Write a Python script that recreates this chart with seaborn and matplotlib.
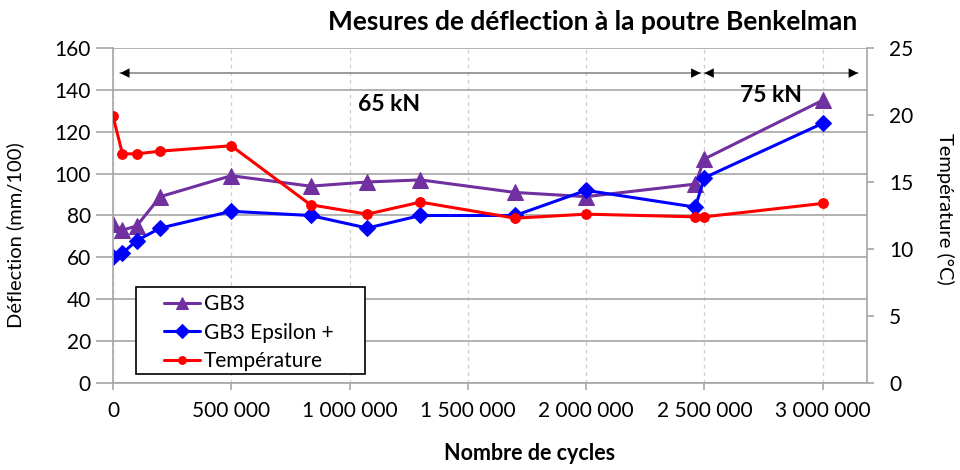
import matplotlib
matplotlib.use("Agg")
import matplotlib.pyplot as plt
from matplotlib.ticker import FuncFormatter, MultipleLocator
from matplotlib.patches import Rectangle
import seaborn as sns
import pandas as pd

# Measurement data
cycles = [0, 40000, 100000, 200000, 500000, 835000, 1075000, 1300000,
          1700000, 2000000, 2462000, 2500000, 3000000]
gb3 = [76, 73, 75, 89, 99, 94, 96, 97, 91, 89, 95, 107, 135]
gb3_epsilon = [60, 62, 68, 74, 82, 80, 74, 80, 80, 92, 84, 98, 124]
temperature = [19.9, 17.1, 17.1, 17.3, 17.7, 13.3, 12.6, 13.5, 12.3, 12.6, 12.4, 12.4, 13.4]

series_labels = ["GB3", "GB3 Epsilon +", "Température"]
load_labels = ["65 kN", "75 kN"]
load_ranges = [(30000, 2484000), (2500000, 3150000)]

sns.set_theme(style="white")
plt.rcParams["font.family"] = ["Lato", "DejaVu Sans"]
plt.rcParams["text.color"] = "black"
plt.rcParams["axes.labelcolor"] = "black"

df = pd.DataFrame({"cycles": cycles, "gb3": gb3, "eps": gb3_epsilon, "temp": temperature})

fig = plt.figure(figsize=(9.6, 4.7), dpi=100)
ax = fig.add_axes([0.1177, 0.185, 0.7855, 0.713])
ax2 = ax.twinx()

sns.lineplot(data=df, x="cycles", y="gb3", ax=ax, color="#7030A0", marker="^",
             markersize=11, markeredgecolor="#7030A0", linewidth=2.2, label=series_labels[0],
             legend=False)
sns.lineplot(data=df, x="cycles", y="eps", ax=ax, color="#0000FF", marker="D",
             markersize=8.5, markeredgecolor="#0000FF", linewidth=2.2, label=series_labels[1],
             legend=False)
sns.lineplot(data=df, x="cycles", y="temp", ax=ax2, color="#FF0000", marker="o",
             markersize=7, markeredgecolor="#FF0000", linewidth=2.2, label=series_labels[2],
             legend=False)

ax.set_xlim(0, 3188000)
ax.set_ylim(0, 160)
ax2.set_ylim(0, 25)
ax.xaxis.set_major_locator(MultipleLocator(500000))
ax.yaxis.set_major_locator(MultipleLocator(20))
ax2.yaxis.set_major_locator(MultipleLocator(5))
ax.xaxis.set_major_formatter(FuncFormatter(lambda v, p: f"{int(v):,}".replace(",", " ")))

# Grid: solid horizontal, dashed vertical
ax.yaxis.grid(True, color="#A6A6A6", linewidth=1.2, linestyle="-")
ax.xaxis.grid(True, color="#CFCFCF", linewidth=0.9, linestyle=(0, (3, 3)))
ax.set_axisbelow(True)

for a in (ax, ax2):
    for s in a.spines.values():
        s.set_visible(False)
ax.spines["left"].set_visible(True)
ax.spines["bottom"].set_visible(True)
ax2.spines["right"].set_visible(True)
for sp in (ax.spines["left"], ax.spines["bottom"], ax2.spines["right"]):
    sp.set_color("#A6A6A6")
    sp.set_linewidth(1.2)

ax.tick_params(axis="y", direction="out", length=12, width=1.2, color="#A6A6A6",
               labelsize=15, labelcolor="black", left=True, pad=4)
ax.tick_params(axis="x", direction="out", length=5, width=1.2, color="#A6A6A6",
               labelsize=15, labelcolor="black", bottom=True, pad=8)
ax2.tick_params(axis="y", direction="out", length=5, width=1.2, color="#A6A6A6",
                labelsize=15, labelcolor="black", right=True, pad=11)

ax.set_xlabel("Nombre de cycles", fontsize=15.5, fontweight="bold")
ax.xaxis.set_label_coords(0.553, -0.18)
ax.set_ylabel("Déflection (mm/100)", fontsize=14.5)
ax.yaxis.set_label_coords(-0.118, 0.442)
ax2.set_ylabel("Température (°C)", fontsize=14.5, rotation=270, va="center")
ax2.yaxis.set_label_coords(1.103, 0.519)

fig.text(0.617, 0.953, "Mesures de déflection à la poutre Benkelman", ha="center",
         va="center", fontsize=19, fontweight="bold")

# Load level ranges with arrows
arrow_y = 148
for (x0, x1) in load_ranges:
    ax.plot([x0, x1], [arrow_y, arrow_y], color="#7F7F7F", linewidth=1.1, zorder=1)
    for a, b in ((x1, x0), (x0, x1)):
        ax.annotate("", xy=(b, arrow_y), xytext=(a, arrow_y),
                    arrowprops=dict(arrowstyle="-|>", color="black", lw=0,
                                    mutation_scale=17, shrinkA=0, shrinkB=0))
ax.text(1168000, 133, load_labels[0], ha="center", va="center", fontsize=16.5,
        fontweight="bold")
ax.text(2781000, 137.5, load_labels[1], ha="center", va="center", fontsize=16.5,
        fontweight="bold")

# Legend with its own frame
ax2.set_zorder(ax.get_zorder() + 1)
frame = Rectangle((0.0305, 0.027), 0.3035, 0.2596, transform=ax2.transAxes,
                  facecolor="white", edgecolor="black", linewidth=1.2, zorder=9)
ax2.add_patch(frame)
handles = [ax.lines[0], ax.lines[1], ax2.lines[0]]
leg = ax2.legend(handles, series_labels, loc="upper left", bbox_to_anchor=(0.068, 0.265),
                 fontsize=15, frameon=False, handlelength=1.7, handletextpad=0.2,
                 borderpad=0, borderaxespad=0, labelspacing=0.4, markerscale=0.8)
leg.set_zorder(10)

fig.savefig("out.png", dpi=100)
